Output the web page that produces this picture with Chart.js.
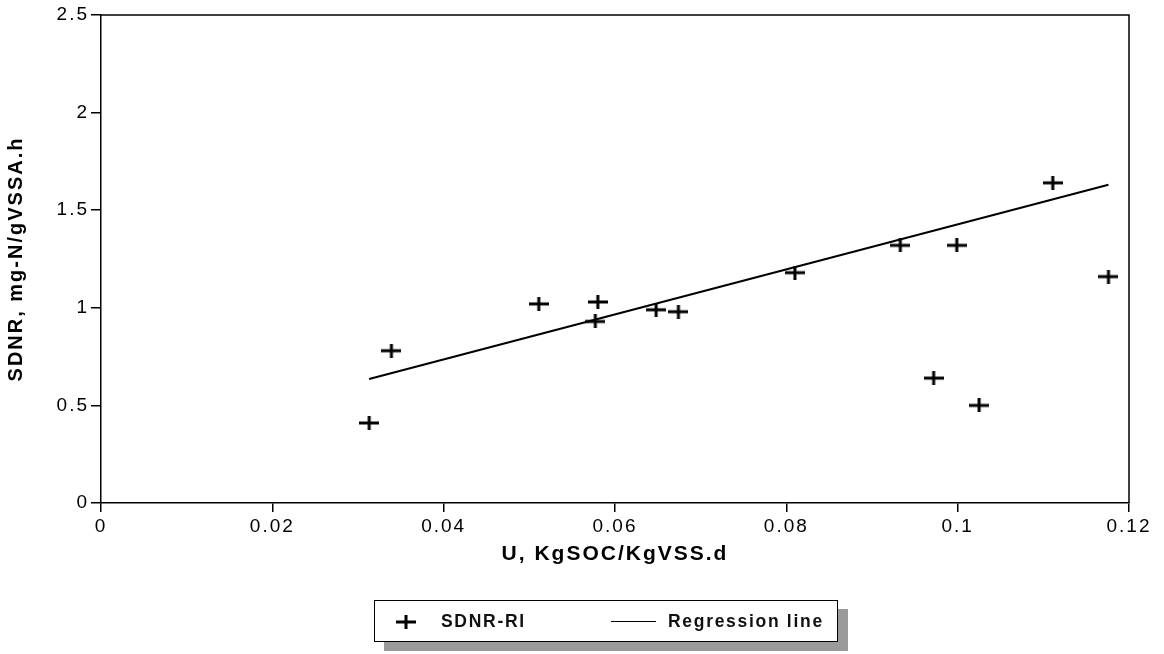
<!DOCTYPE html>
<html>
<head>
<meta charset="utf-8">
<script src="https://cdn.jsdelivr.net/npm/chart.js@4/dist/chart.umd.min.js"></script>
<style>
  html, body { margin: 0; padding: 0; background: #fff; }
  #wrap { position: relative; width: 1164px; height: 654px; }
  #chart { position: absolute; left: 0; top: 0; }
  #legend {
    position: absolute; left: 374px; top: 600px; width: 464px; height: 42px;
    border: 1.5px solid #000; background: #fff; box-sizing: border-box;
    box-shadow: 10px 9px 0 #9a9a9a;
    font-family: "Liberation Sans", Arial, sans-serif; font-weight: bold; font-size: 17.5px;
    letter-spacing: 1.7px; color: #111;
  }
  .lg-item { position: absolute; top: 10px; }
  #lgCross { position: absolute; left: 21px; top: 14px; }
  #lgLine { position: absolute; left: 236px; top: 20px; width: 45px; height: 0; border-top: 1.5px solid #000; }
</style>
</head>
<body>
<div id="wrap">
  <canvas id="chart" width="1164" height="654"></canvas>
  <div id="legend">
    <canvas id="lgCross" width="20" height="14"></canvas>
    <span class="lg-item" style="left:66px">SDNR-RI</span>
    <div id="lgLine"></div>
    <span class="lg-item" style="left:293px">Regression line</span>
  </div>
</div>
<script>
// ---- data ----
const uValues    = [0.0313, 0.0339, 0.0511, 0.0580, 0.0577, 0.0648, 0.0674, 0.0810, 0.0933, 0.0999, 0.1111, 0.1176, 0.0972, 0.1025];
const sdnrValues = [0.41,   0.78,   1.02,   1.03,   0.93,   0.99,   0.98,   1.18,   1.32,   1.32,   1.64,   1.16,   0.64,   0.50];
const regX = [0.0313, 0.1176];
const regY = [0.635, 1.63];
const xTickValues = [0, 0.02, 0.04, 0.06, 0.08, 0.1, 0.12];
const yTickValues = [0, 0.5, 1, 1.5, 2, 2.5];
const xTitle = 'U, KgSOC/KgVSS.d';
const yTitle = 'SDNR, mg-N/gVSSA.h';

// ---- marker ----
function makeCross(cv) {
  const c = cv || document.createElement('canvas');
  c.width = 20; c.height = 14;
  const g = c.getContext('2d');
  g.fillStyle = '#000';
  g.fillRect(0, 5.5, 20, 3);
  g.fillRect(8.5, 0, 3, 14);
  return c;
}
const crossImg = makeCross();
makeCross(document.getElementById('lgCross'));

const scatterData = uValues.map((u, i) => ({ x: u, y: sdnrValues[i] }));
const regData = regX.map((u, i) => ({ x: u, y: regY[i] }));

const frame = {
  id: 'frame',
  beforeDraw(chart) { chart.ctx.letterSpacing = '2px'; },
  afterDraw(chart) {
    const a = chart.chartArea, ctx = chart.ctx;
    ctx.save();
    ctx.strokeStyle = '#000';
    ctx.lineWidth = 1.5;
    ctx.beginPath();
    ctx.moveTo(a.left, a.top); ctx.lineTo(a.right, a.top); ctx.lineTo(a.right, a.bottom);
    ctx.stroke();
    ctx.restore();
  }
};

const fontFam = '"Liberation Sans", Arial, sans-serif';

new Chart(document.getElementById('chart'), {
  type: 'scatter',
  data: {
    datasets: [
      {
        label: 'SDNR-RI',
        data: scatterData,
        pointStyle: crossImg,
        pointRadius: 10,
        pointHoverRadius: 10,
        showLine: false
      },
      {
        type: 'line',
        label: 'Regression line',
        data: regData,
        borderColor: '#000',
        borderWidth: 2,
        pointRadius: 0,
        fill: false
      }
    ]
  },
  options: {
    responsive: false,
    animation: false,
    events: [],
    layout: { padding: { top: 15, right: 35, bottom: 81, left: 0 } },
    plugins: { legend: { display: false }, tooltip: { enabled: false } },
    scales: {
      x: {
        type: 'linear',
        min: 0, max: 0.12,
        afterFit(s) { s.height = 70; },
        afterBuildTicks(s) { s.ticks = xTickValues.map(v => ({ value: v })); },
        grid: { display: true, drawOnChartArea: false, drawTicks: true, tickLength: 9, color: '#000', lineWidth: 1.5 },
        border: { display: true, color: '#000', width: 1.5 },
        ticks: { color: '#000', font: { family: fontFam, size: 19 }, padding: 3, maxRotation: 0, autoSkip: false,
                 callback: v => String(v) },
        title: { display: true, text: xTitle, color: '#000', font: { family: fontFam, size: 21, weight: 'bold' }, padding: { top: 4, bottom: 6 } }
      },
      y: {
        type: 'linear',
        min: 0, max: 2.5,
        afterFit(s) { s.width = 101; },
        afterBuildTicks(s) { s.ticks = yTickValues.map(v => ({ value: v })); },
        grid: { display: true, drawOnChartArea: false, drawTicks: true, tickLength: 10, color: '#000', lineWidth: 1.5 },
        border: { display: true, color: '#000', width: 1.5 },
        ticks: { color: '#000', font: { family: fontFam, size: 19 }, padding: 2, autoSkip: false,
                 callback: v => String(v) },
        title: { display: true, text: yTitle, color: '#000', font: { family: fontFam, size: 20, weight: 'bold' }, padding: { top: 4, bottom: 0 } }
      }
    }
  },
  plugins: [frame]
});
</script>
</body>
</html>
